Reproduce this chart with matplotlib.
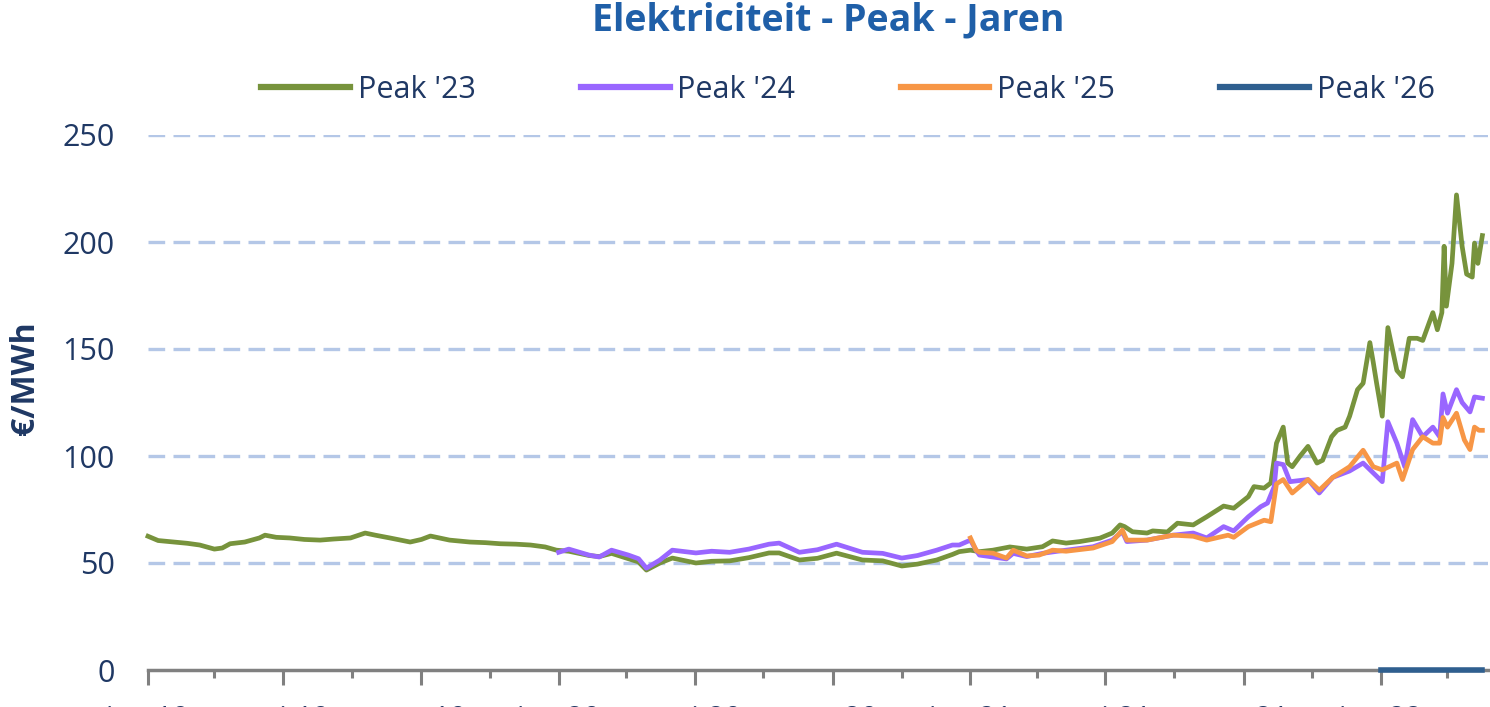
import matplotlib
matplotlib.use("Agg")
import matplotlib.pyplot as plt
from matplotlib import font_manager
import pandas as pd

# ---------------- data ----------------
title = "Elektriciteit - Peak - Jaren"
ylabel = "€/MWh"

peak23_dates = [
    "2019-01-01", "2019-01-10", "2019-01-20", "2019-02-05", "2019-02-16", "2019-03-01", "2019-03-08",
    "2019-03-15", "2019-03-28", "2019-04-10", "2019-04-15", "2019-04-25", "2019-05-07", "2019-05-20",
    "2019-06-03", "2019-06-15", "2019-06-30", "2019-07-13", "2019-07-22", "2019-08-04", "2019-08-22",
    "2019-09-01", "2019-09-09", "2019-09-26", "2019-10-14", "2019-10-28", "2019-11-10", "2019-11-24",
    "2019-12-07", "2019-12-20", "2019-12-30",
    "2020-01-10", "2020-01-28", "2020-02-06", "2020-02-17", "2020-03-03", "2020-03-12", "2020-03-19",
    "2020-03-31", "2020-04-11", "2020-05-02", "2020-05-16", "2020-06-01", "2020-06-18", "2020-07-06",
    "2020-07-15", "2020-08-02", "2020-08-18", "2020-09-04", "2020-09-27", "2020-10-15", "2020-11-01",
    "2020-11-15", "2020-12-02", "2020-12-16", "2020-12-22",
    "2021-01-01", "2021-01-09", "2021-01-21", "2021-02-05", "2021-02-20", "2021-03-06", "2021-03-15",
    "2021-03-27", "2021-04-08", "2021-04-26", "2021-05-07", "2021-05-14", "2021-05-18", "2021-05-25",
    "2021-06-07", "2021-06-12", "2021-06-25", "2021-07-04", "2021-07-18", "2021-07-30", "2021-08-14",
    "2021-08-23", "2021-09-05", "2021-09-10", "2021-09-19", "2021-09-25", "2021-09-30", "2021-10-06",
    "2021-10-10", "2021-10-14", "2021-10-21", "2021-10-28", "2021-11-05", "2021-11-10", "2021-11-18",
    "2021-11-23", "2021-11-30", "2021-12-04", "2021-12-11", "2021-12-16", "2021-12-22", "2021-12-25",
    "2021-12-28", "2022-01-02", "2022-01-07", "2022-01-15", "2022-01-20", "2022-01-26", "2022-02-02",
    "2022-02-07", "2022-02-16", "2022-02-20", "2022-02-24", "2022-02-26", "2022-02-28", "2022-03-05",
    "2022-03-09", "2022-03-14", "2022-03-18", "2022-03-23", "2022-03-25", "2022-03-28", "2022-04-01",
]
peak23_values = [
    62.5, 60.5, 60.0, 59.2, 58.4, 56.5, 57.0,
    59.0, 59.8, 61.7, 63.0, 62.0, 61.7, 61.0,
    60.7, 61.2, 61.7, 64.0, 63.0, 61.7, 59.8,
    61.0, 62.6, 60.7, 59.8, 59.5, 59.0, 58.8,
    58.4, 57.5, 56.0,
    55.5, 53.5, 53.0, 54.5, 52.0, 50.5, 46.7,
    50.0, 52.3, 50.0, 50.8, 51.0, 52.5, 54.7,
    54.7, 51.4, 52.2, 54.6, 51.4, 51.0, 48.6,
    49.5, 51.4, 54.0, 55.3,
    56.0, 55.3, 56.0, 57.5, 56.5, 57.6, 60.3,
    59.3, 60.0, 61.6, 64.0, 67.8, 67.0, 64.6,
    64.0, 65.0, 64.5, 68.6, 67.8, 71.6, 76.6,
    75.6, 81.0, 85.7, 85.0, 87.4, 106.0, 113.5,
    96.7, 95.0, 100.0, 104.5, 96.7, 98.0, 109.0,
    112.0, 113.5, 118.6, 131.0, 134.0, 153.0, 143.8,
    134.0, 118.6, 160.0, 140.0, 137.0, 155.0, 155.0,
    154.0, 167.0, 159.0, 167.0, 198.0, 170.0, 190.0,
    222.0, 198.0, 185.0, 183.6, 199.5, 190.0, 203.0,
]

peak24_dates = [
    "2020-01-01", "2020-01-10", "2020-01-28", "2020-02-06", "2020-02-17", "2020-03-03", "2020-03-12",
    "2020-03-19", "2020-03-31", "2020-04-11", "2020-05-02", "2020-05-16", "2020-06-01", "2020-06-18",
    "2020-07-06", "2020-07-15", "2020-08-02", "2020-08-18", "2020-09-04", "2020-09-27", "2020-10-15",
    "2020-11-01", "2020-11-15", "2020-12-02", "2020-12-16", "2020-12-22",
    "2021-01-01", "2021-01-06", "2021-01-09", "2021-01-21", "2021-02-02", "2021-02-08", "2021-02-20",
    "2021-03-06", "2021-03-21", "2021-04-20", "2021-05-07", "2021-05-16", "2021-05-20", "2021-06-07",
    "2021-06-30", "2021-07-18", "2021-07-30", "2021-08-14", "2021-08-23", "2021-09-05", "2021-09-16",
    "2021-09-22", "2021-09-28", "2021-09-30", "2021-10-06", "2021-10-12", "2021-10-28", "2021-11-07",
    "2021-11-19", "2021-12-04", "2021-12-16", "2022-01-02", "2022-01-07", "2022-01-15", "2022-01-22",
    "2022-01-29", "2022-02-07", "2022-02-16", "2022-02-22", "2022-02-25", "2022-03-01", "2022-03-09",
    "2022-03-14", "2022-03-21", "2022-03-25", "2022-04-01",
]
peak24_values = [
    55.0, 56.5, 53.7, 52.8, 56.0, 53.7, 52.0,
    47.6, 51.4, 56.0, 54.7, 55.5, 55.0, 56.5,
    58.8, 59.3, 55.0, 56.2, 58.8, 55.0, 54.5,
    52.3, 53.5, 56.0, 58.4, 58.4,
    60.7, 56.0, 53.7, 52.8, 51.9, 54.5, 53.0,
    54.5, 55.6, 57.6, 60.7, 64.6, 60.0, 60.7,
    63.0, 64.0, 61.7, 67.0, 65.0, 71.6, 76.3,
    78.0, 85.7, 96.7, 96.0, 88.0, 89.0, 82.7,
    90.0, 93.0, 96.7, 88.0, 116.0, 106.0, 95.0,
    117.0, 109.0, 113.5, 109.0, 129.0, 120.0, 131.0,
    125.0, 120.6, 127.6, 127.0,
]

peak25_dates = [
    "2021-01-01", "2021-01-06", "2021-01-09", "2021-01-21", "2021-02-02", "2021-02-08", "2021-02-20",
    "2021-03-03", "2021-03-15", "2021-03-27", "2021-04-20", "2021-05-07", "2021-05-16", "2021-05-20",
    "2021-06-07", "2021-06-30", "2021-07-18", "2021-07-30", "2021-08-18", "2021-08-23", "2021-09-05",
    "2021-09-19", "2021-09-25", "2021-09-30", "2021-10-06", "2021-10-14", "2021-10-28", "2021-11-07",
    "2021-11-19", "2021-12-04", "2021-12-16", "2021-12-25", "2022-01-02", "2022-01-15", "2022-01-20",
    "2022-01-29", "2022-02-07", "2022-02-16", "2022-02-22", "2022-02-25", "2022-03-01", "2022-03-09",
    "2022-03-16", "2022-03-21", "2022-03-25", "2022-03-29", "2022-04-01",
]
peak25_values = [
    61.7, 56.0, 55.0, 54.6, 52.3, 56.0, 53.3,
    53.7, 56.0, 55.5, 57.0, 60.0, 65.4, 60.7,
    60.7, 63.0, 62.5, 60.7, 63.0, 62.0, 67.0,
    70.0, 69.3, 87.0, 89.0, 82.7, 89.0, 84.0,
    90.0, 95.0, 102.7, 95.0, 93.5, 96.7, 89.0,
    103.0, 109.0, 106.0, 106.0, 118.0, 113.5, 120.0,
    107.5, 103.0, 113.5, 112.0, 112.0,
]

peak26_dates = ["2022-01-01", "2022-04-01"]
peak26_values = [0.0, 0.0]

series_names = ["Peak '23", "Peak '24", "Peak '25", "Peak '26"]
series_colors = ["#77933C", "#9966FF", "#F79646", "#2F5F8F"]

tick_dates = ["2019-01-01", "2019-05-01", "2019-09-01", "2020-01-01", "2020-05-01",
              "2020-09-01", "2021-01-01", "2021-05-01", "2021-09-01", "2022-01-01"]
tick_labels = ["jan-19", "mei-19", "sep-19", "jan-20", "mei-20",
               "sep-20", "jan-21", "mei-21", "sep-21", "jan-22"]
minor_tick_dates = ["2019-03-01", "2019-07-01", "2019-11-01", "2020-03-01", "2020-07-01",
                    "2020-11-01", "2021-03-01", "2021-07-01", "2021-11-01", "2022-03-01"]
y_ticks = [0, 50, 100, 150, 200, 250]

# ---------------- style ----------------
available = {f.name for f in font_manager.fontManager.ttflist}
family = "Liberation Sans Narrow" if "Liberation Sans Narrow" in available else "Open Sans"
plt.rcParams["font.family"] = [family, "DejaVu Sans"]

navy = "#1F3864"
title_blue = "#1F5FA8"
grid_blue = "#B4C7E7"
axis_gray = "#808080"

fig = plt.figure(figsize=(14.9, 7.07), dpi=100)
ax = fig.add_axes([148 / 1490, 1 - 670 / 707, (1488 - 148) / 1490, (670 - 135) / 707])

all_series = [
    (peak23_dates, peak23_values),
    (peak24_dates, peak24_values),
    (peak25_dates, peak25_values),
    (peak26_dates, peak26_values),
]
handles = []
for i, ((d, v), name, col) in enumerate(zip(all_series, series_names, series_colors)):
    lw = 4.0 if i == 3 else 3.4
    h, = ax.plot(pd.to_datetime(d), v, color=col, lw=lw, label=name,
                 solid_joinstyle="round", zorder=3 + i, clip_on=False)
    handles.append(h)

ax.set_xlim(pd.Timestamp("2019-01-01"), pd.Timestamp("2022-04-06"))
ax.set_ylim(0, 250)

ax.set_yticks(y_ticks)
ax.set_yticklabels([str(t) for t in y_ticks])
for t in y_ticks[1:]:
    ax.axhline(t, color=grid_blue, lw=2.4, ls=(0, (5, 2.5)), zorder=1)

ax.set_xticks(pd.to_datetime(tick_dates))
ax.set_xticklabels(tick_labels)
ax.set_xticks(pd.to_datetime(minor_tick_dates), minor=True)

for s in ["top", "right", "left"]:
    ax.spines[s].set_visible(False)
ax.spines["bottom"].set_color(axis_gray)
ax.spines["bottom"].set_linewidth(2.5)
ax.spines["bottom"].set_zorder(2)

ax.tick_params(axis="y", length=0, pad=24, labelsize=22, labelcolor=navy)
ax.tick_params(axis="x", which="major", length=11, width=2.2, color=axis_gray,
               pad=14, labelsize=21, labelcolor=navy, direction="out")
ax.tick_params(axis="x", which="minor", length=6, width=2.2, color=axis_gray, direction="out")

fig.text(26 / 1490, 1 - 378 / 707, ylabel, rotation=90, ha="center", va="center",
         fontsize=23, color=navy, fontweight="bold")
fig.text(828 / 1490, 1 - 20 / 707, title, ha="center", va="center",
         fontsize=27, color=title_blue, fontweight="bold")

leg = ax.legend(handles=handles, ncol=4, loc="center",
                bbox_to_anchor=(848 / 1490, 1 - 90 / 707), bbox_transform=fig.transFigure,
                frameon=False, fontsize=22, handlelength=2.9, handletextpad=0.25,
                columnspacing=3.45, labelcolor=navy)
for lh in leg.get_lines():
    lh.set_linewidth(4.5)

fig.savefig("out.png", dpi=100, facecolor="white")
